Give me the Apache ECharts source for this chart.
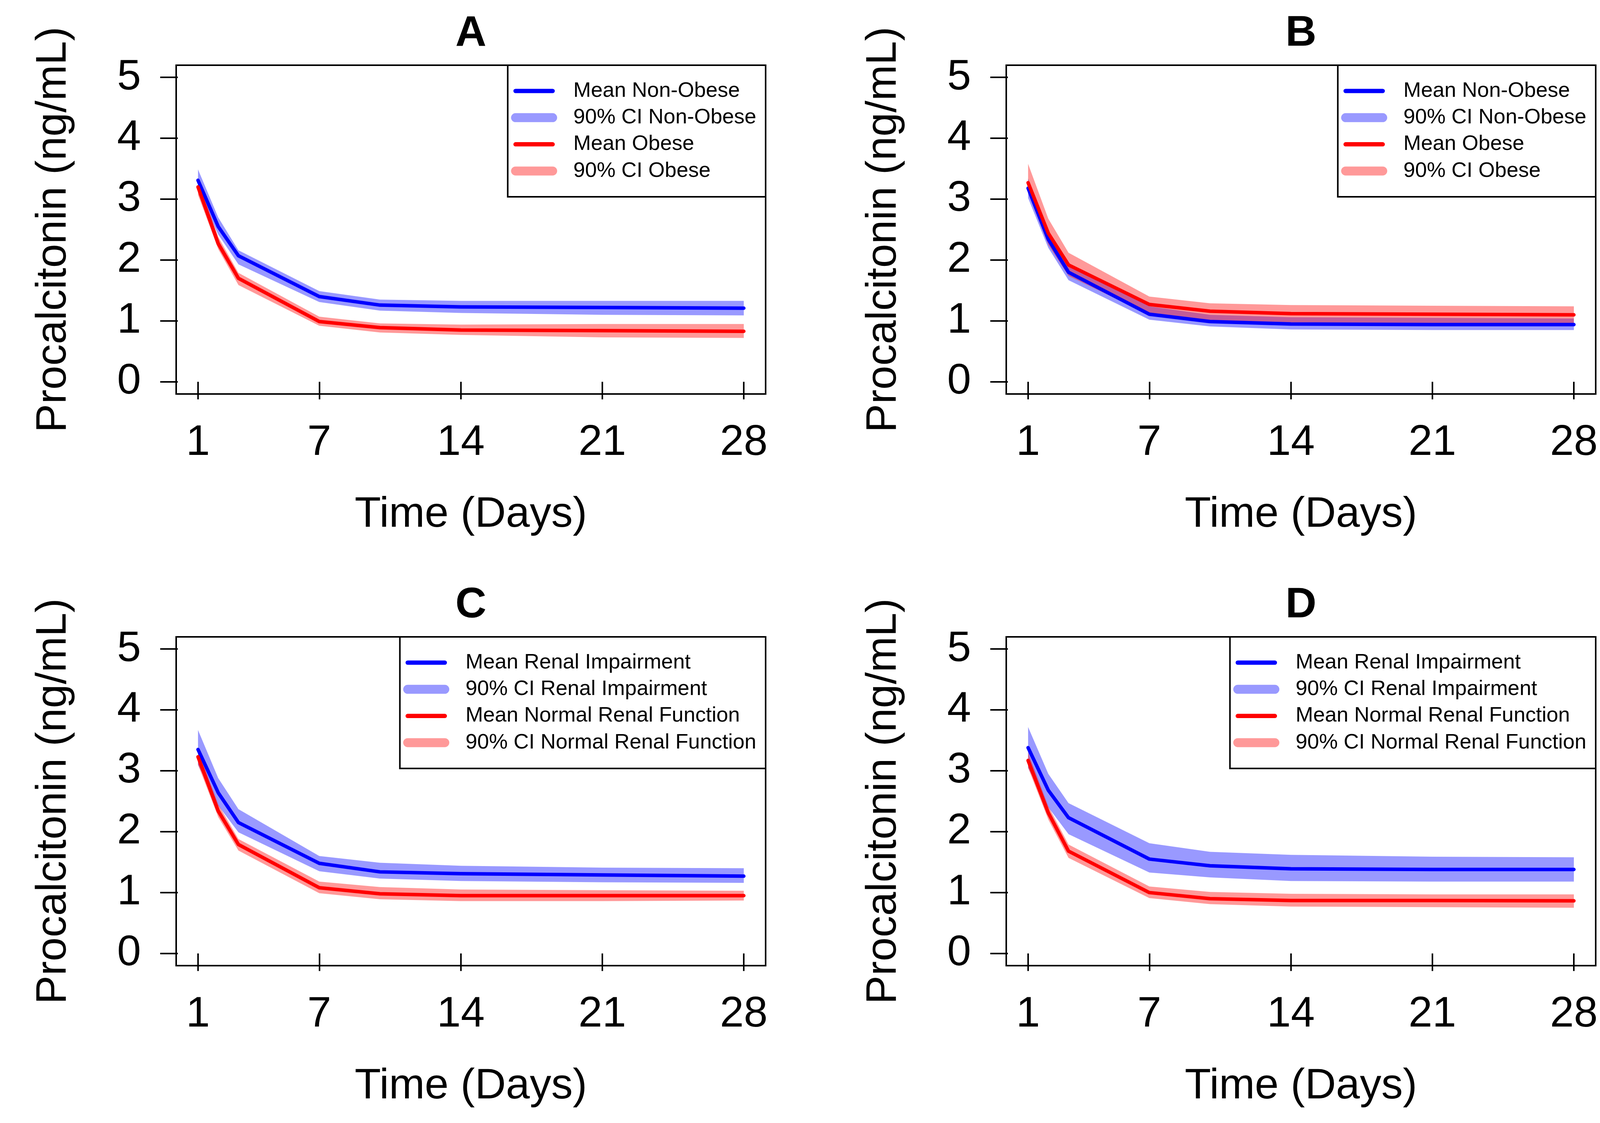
<!DOCTYPE html>
<html>
<head>
<meta charset="utf-8">
<script src="https://cdn.jsdelivr.net/npm/echarts@6/dist/echarts.min.js"></script>
<style>
html,body{margin:0;padding:0;background:#fff;}
#chart{width:4159px;height:2876px;}
</style>
</head>
<body>
<div id="chart"></div>
<script>
// ---------------- data ----------------
const days = [1, 2, 3, 7, 10, 14, 21, 28];
const xTicks = [1, 7, 14, 21, 28];
const yTicks = [0, 1, 2, 3, 4, 5];
const panelTitles = ['A', 'B', 'C', 'D'];
const xAxisTitle = 'Time (Days)';
const yAxisTitle = 'Procalcitonin (ng/mL)';
const legendObese = ['Mean Non-Obese', '90% CI Non-Obese', 'Mean Obese', '90% CI Obese'];
const legendRenal = ['Mean Renal Impairment', '90% CI Renal Impairment', 'Mean Normal Renal Function', '90% CI Normal Renal Function'];

// Panel A
const aBlueMean = [3.31, 2.55, 2.07, 1.40, 1.26, 1.23, 1.22, 1.21];
const aBlueLo   = [3.15, 2.42, 1.93, 1.31, 1.17, 1.13, 1.10, 1.09];
const aBlueHi   = [3.49, 2.70, 2.16, 1.49, 1.35, 1.33, 1.33, 1.33];
const aRedMean  = [3.20, 2.27, 1.70, 0.99, 0.89, 0.85, 0.84, 0.83];
const aRedLo    = [3.07, 2.18, 1.59, 0.92, 0.81, 0.77, 0.73, 0.72];
const aRedHi    = [3.33, 2.38, 1.79, 1.07, 0.96, 0.94, 0.95, 0.95];
// Panel B
const bBlueMean = [3.18, 2.34, 1.80, 1.11, 0.99, 0.95, 0.94, 0.94];
const bBlueLo   = [3.02, 2.20, 1.67, 1.02, 0.91, 0.86, 0.85, 0.85];
const bBlueHi   = [3.34, 2.48, 1.93, 1.24, 1.10, 1.06, 1.05, 1.04];
const bRedMean  = [3.27, 2.44, 1.92, 1.27, 1.16, 1.12, 1.11, 1.10];
const bRedLo    = [3.10, 2.25, 1.74, 1.10, 1.00, 0.96, 0.95, 0.95];
const bRedHi    = [3.58, 2.68, 2.12, 1.40, 1.29, 1.26, 1.25, 1.24];
// Panel C
const cBlueMean = [3.35, 2.64, 2.15, 1.48, 1.34, 1.31, 1.29, 1.27];
const cBlueLo   = [3.10, 2.43, 1.99, 1.35, 1.23, 1.19, 1.17, 1.16];
const cBlueHi   = [3.67, 2.88, 2.37, 1.60, 1.49, 1.44, 1.41, 1.40];
const cRedMean  = [3.23, 2.34, 1.79, 1.08, 0.98, 0.95, 0.95, 0.95];
const cRedLo    = [3.10, 2.24, 1.69, 0.99, 0.89, 0.86, 0.86, 0.87];
const cRedHi    = [3.35, 2.45, 1.88, 1.18, 1.09, 1.05, 1.04, 1.03];
// Panel D
const dBlueMean = [3.38, 2.68, 2.23, 1.55, 1.44, 1.39, 1.38, 1.38];
const dBlueLo   = [3.05, 2.40, 1.96, 1.33, 1.25, 1.19, 1.18, 1.18];
const dBlueHi   = [3.72, 2.95, 2.47, 1.81, 1.67, 1.62, 1.59, 1.58];
const dRedMean  = [3.17, 2.31, 1.68, 1.00, 0.90, 0.87, 0.87, 0.865];
const dRedLo    = [3.05, 2.20, 1.57, 0.91, 0.81, 0.77, 0.76, 0.75];
const dRedHi    = [3.30, 2.42, 1.79, 1.10, 1.01, 0.98, 0.97, 0.97];

// ---------------- layout / style ----------------
const W = 4159, H = 2876;
const FONT = '"Liberation Sans", Arial, Helvetica, sans-serif';
const panels = [
  {title: panelTitles[0], left: 451,  top: 167,  legend: legendObese, blue: [aBlueMean, aBlueLo, aBlueHi], red: [aRedMean, aRedLo, aRedHi]},
  {title: panelTitles[1], left: 2576, top: 167,  legend: legendObese, blue: [bBlueMean, bBlueLo, bBlueHi], red: [bRedMean, bRedLo, bRedHi]},
  {title: panelTitles[2], left: 451,  top: 1631, legend: legendRenal, blue: [cBlueMean, cBlueLo, cBlueHi], red: [cRedMean, cRedLo, cRedHi]},
  {title: panelTitles[3], left: 2576, top: 1631, legend: legendRenal, blue: [dBlueMean, dBlueLo, dBlueHi], red: [dRedMean, dRedLo, dRedHi]}
];
const GW = 1509, GH = 842;
const BLUE = '#0000FF', RED = '#FF0000';
const BLUE_BAND = 'rgba(0,0,255,0.4)', RED_BAND = 'rgba(255,0,0,0.4)';
const BLUE_BAND_KEY = '#9999FF', RED_BAND_KEY = '#FF9999';
const meanIcon = 'path://M0,0L0.01,0M13,6L108,6A5.5,5.5,0,0,1,108,17L13,17A5.5,5.5,0,0,1,13,6ZM156,23L155.99,23';
const ciIcon = 'path://M0,0L0.01,0M13,0L108,0A11.5,11.5,0,0,1,108,23L13,23A11.5,11.5,0,0,1,13,0ZM156,23L155.99,23';

function pairs(vals) { return days.map((d, i) => [d, vals[i]]); }

function bandRenderer(lo, hi, color) {
  return function (params, api) {
    if (params.dataIndex !== 0) return null;
    const pts = [];
    for (let i = 0; i < days.length; i++) pts.push(api.coord([days[i], hi[i]]));
    for (let i = days.length - 1; i >= 0; i--) pts.push(api.coord([days[i], lo[i]]));
    return {type: 'polygon', shape: {points: pts}, style: {fill: color, stroke: null}, silent: true};
  };
}

const grids = [], xAxes = [], yAxes = [], series = [], titles = [], legends = [];
panels.forEach((p, k) => {
  grids.push({left: p.left, top: p.top, width: GW, height: GH, show: true,
    borderColor: '#000', borderWidth: 4, backgroundColor: 'transparent', containLabel: false});
  xAxes.push({
    type: 'value', gridIndex: k, min: -0.08, max: 29.08,
    axisLine: {show: false},
    axisTick: {show: true, inside: false, length: 45, customValues: xTicks, lineStyle: {color: '#000', width: 4}},
    axisLabel: {show: true, customValues: xTicks, margin: 71, fontSize: 110, color: '#000', fontFamily: FONT},
    splitLine: {show: false},
    name: xAxisTitle, nameLocation: 'middle', nameGap: 255,
    nameTextStyle: {fontSize: 110, color: '#000', fontFamily: FONT, lineHeight: 110}
  });
  yAxes.push({
    type: 'value', gridIndex: k, min: -0.2, max: 5.2,
    axisLine: {show: false},
    axisTick: {show: true, inside: false, length: 45, customValues: yTicks, lineStyle: {color: '#000', width: 4}},
    axisLabel: {show: true, customValues: yTicks, margin: 90, fontSize: 110, color: '#000', fontFamily: FONT},
    splitLine: {show: false},
    name: yAxisTitle, nameLocation: 'middle', nameGap: 258,
    nameTextStyle: {fontSize: 110, color: '#000', fontFamily: FONT, lineHeight: 110}
  });
  titles.push({text: p.title, left: p.left + GW / 2, top: p.top - 135, textAlign: 'center', padding: 0,
    textStyle: {fontSize: 110, fontWeight: 'bold', color: '#000', fontFamily: FONT}});

  const groups = [
    {vals: p.blue, line: BLUE, band: BLUE_BAND, meanName: p.legend[0], ciName: p.legend[1]},
    {vals: p.red,  line: RED,  band: RED_BAND,  meanName: p.legend[2], ciName: p.legend[3]}
  ];
  groups.forEach(g => {
    const [mean, lo, hi] = g.vals;
    series.push({
      name: g.ciName, type: 'custom', xAxisIndex: k, yAxisIndex: k,
      data: days.map((d, i) => [d, lo[i], hi[i]]),
      encode: {x: 0, y: [1, 2]},
      renderItem: bandRenderer(lo, hi, g.band),
      itemStyle: {color: g.band}, silent: true
    });
    series.push({
      name: g.meanName, type: 'line', xAxisIndex: k, yAxisIndex: k,
      data: pairs(mean), symbol: 'none', silent: true,
      itemStyle: {color: g.line},
      lineStyle: {color: g.line, width: 9, cap: 'round', join: 'round'}
    });
  });

  legends.push({
    orient: 'vertical', right: W - (p.left + GW), top: p.top,
    padding: [39, 24, 39, 7], itemGap: 14.3, itemWidth: 156, itemHeight: 23,
    symbolKeepAspect: false, selectedMode: false,
    borderColor: '#000', borderWidth: 4, backgroundColor: '#fff',
    textStyle: {fontSize: 54, lineHeight: 52, color: '#000', fontFamily: FONT},
    data: [
      {name: p.legend[0], icon: meanIcon, itemStyle: {color: BLUE, borderWidth: 0}},
      {name: p.legend[1], icon: ciIcon, itemStyle: {color: BLUE_BAND_KEY, borderWidth: 0}},
      {name: p.legend[2], icon: meanIcon, itemStyle: {color: RED, borderWidth: 0}},
      {name: p.legend[3], icon: ciIcon, itemStyle: {color: RED_BAND_KEY, borderWidth: 0}}
    ]
  });
});

const chart = echarts.init(document.getElementById('chart'), null, {renderer: 'canvas', width: W, height: H});
chart.setOption({
  animation: false,
  backgroundColor: '#fff',
  title: titles,
  grid: grids,
  xAxis: xAxes,
  yAxis: yAxes,
  legend: legends,
  series: series
});
</script>
</body>
</html>
